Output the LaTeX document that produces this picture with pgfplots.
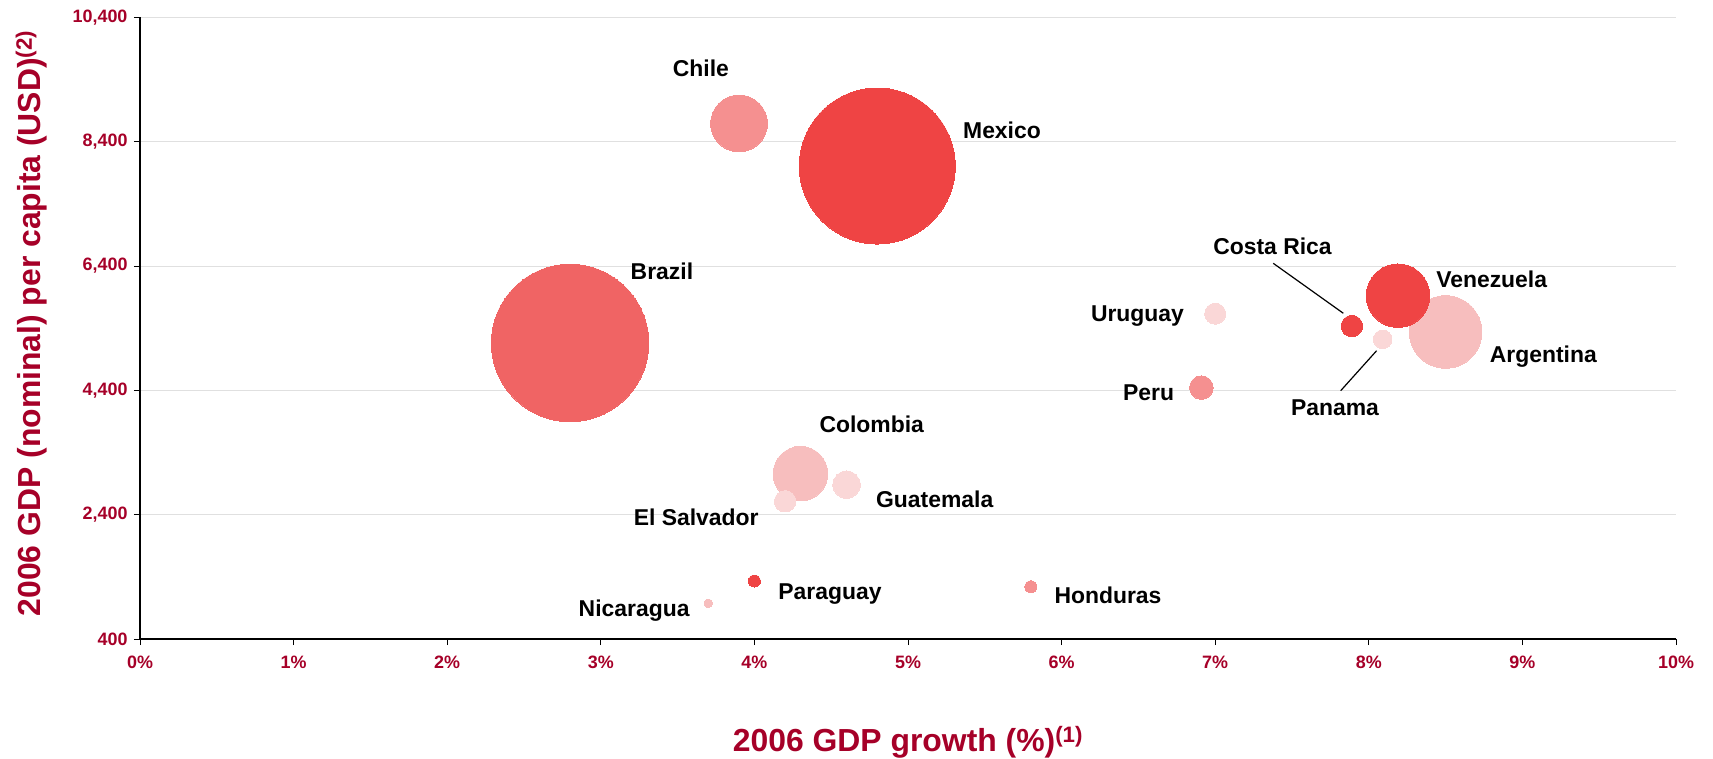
\documentclass[border=0pt]{standalone}
\usepackage{pgfplots}
\pgfplotsset{compat=1.18}
\usepackage{fontspec}
\setmainfont{Liberation Sans}
\definecolor{dred}{RGB}{166,0,40}
\definecolor{cA}{RGB}{239,68,68}
\definecolor{cB}{RGB}{240,100,100}
\definecolor{cC}{RGB}{245,144,144}
\definecolor{cD}{RGB}{247,190,190}
\definecolor{cE}{RGB}{250,215,215}
\tikzset{lbl/.style={font=\fontsize{23}{25}\selectfont\bfseries, inner sep=0pt, anchor=center, text=black}}
\pgfplotsset{bub/.style={only marks, mark=*, color=#1, mark options={solid, line width=0pt, draw=#1, fill=#1}}}
\begin{document}
\begin{tikzpicture}
\begin{axis}[
  at={(140bp,120bp)}, anchor=south west,
  scale only axis, width=1536bp, height=621.5bp,
  xmin=0, xmax=10, ymin=400, ymax=10400,
  axis lines=left,
  axis line style={-, black, line width=1.2bp},
  xtick={0,1,2,3,4,5,6,7,8,9,10},
  xticklabels={0\%,1\%,2\%,3\%,4\%,5\%,6\%,7\%,8\%,9\%,10\%},
  ytick={400,2400,4400,6400,8400,10400},
  yticklabels={400,{2,400},{4,400},{6,400},{8,400},{10,400}},
  tick align=outside, major tick length=6bp,
  tick style={black, line width=1bp},
  ymajorgrids, grid style={black!12, line width=1bp},
  ticklabel style={font=\fontsize{18}{20}\selectfont\bfseries, text=dred},
  xticklabel style={yshift=-7.5bp},
  yticklabel style={xshift=-3bp},
  xlabel={2006 GDP growth (\%)\textsuperscript{(1)}},
  ylabel={2006 GDP (nominal) per capita (USD)\textsuperscript{(2)}},
  xlabel style={at={(axis description cs:0.5,-0.1818)}, anchor=base, font=\fontsize{32}{36}\selectfont\bfseries, text=dred},
  ylabel style={at={(axis description cs:-0.0645,0.508)}, anchor=base, font=\fontsize{32}{36}\selectfont\bfseries, text=dred},
  clip=false,
]
% bubbles: x = growth (%), y = GDP per capita (USD)
\addplot[bub=cC, mark size=28.4bp] coordinates {(3.9,8695)};   % Chile
\addplot[bub=cA, mark size=78bp] coordinates {(4.8,8010)};     % Mexico
\addplot[bub=cB, mark size=78.7bp] coordinates {(2.8,5163)};   % Brazil
\addplot[bub=cD, mark size=36.3bp] coordinates {(8.5,5340)};   % Argentina
\addplot[bub=cA, mark size=31.7bp] coordinates {(8.19,5924)};  % Venezuela
\addplot[bub=cA, mark size=10.7bp] coordinates {(7.89,5436)};  % Costa Rica
\addplot[bub=cE, mark size=9.3bp] coordinates {(8.09,5222)};   % Panama
\addplot[bub=cE, mark size=10.5bp] coordinates {(7.0,5634)};   % Uruguay
\addplot[bub=cC, mark size=11.8bp] coordinates {(6.91,4444)};  % Peru
\addplot[bub=cD, mark size=27.3bp] coordinates {(4.3,3060)};   % Colombia
\addplot[bub=cE, mark size=13.7bp] coordinates {(4.6,2883)};   % Guatemala
\addplot[bub=cE, mark size=10.7bp] coordinates {(4.2,2616)};   % El Salvador
\addplot[bub=cA, mark size=6bp] coordinates {(4.0,1333)};      % Paraguay
\addplot[bub=cC, mark size=6bp] coordinates {(5.8,1241)};      % Honduras
\addplot[bub=cD, mark size=4.3bp] coordinates {(3.7,974)};     % Nicaragua
% leader lines
\draw[black, line width=1.2bp] (axis cs:7.378,6445) -- (axis cs:7.834,5641);
\draw[black, line width=1.2bp] (axis cs:8.051,5039) -- (axis cs:7.817,4395);
% labels
\node[lbl] at (axis cs:3.652,9587) {Chile};
\node[lbl] at (axis cs:5.612,8590) {Mexico};
\node[lbl] at (axis cs:3.398,6321) {Brazil};
\node[lbl] at (axis cs:7.373,6712) {Costa Rica};
\node[lbl] at (axis cs:8.800,6192) {Venezuela};
\node[lbl] at (axis cs:6.494,5597) {Uruguay};
\node[lbl] at (axis cs:9.136,4942) {Argentina};
\node[lbl] at (axis cs:6.566,4358) {Peru};
\node[lbl] at (axis cs:7.780,4122) {Panama};
\node[lbl] at (axis cs:4.764,3854) {Colombia};
\node[lbl] at (axis cs:5.174,2648) {Guatemala};
\node[lbl] at (axis cs:3.621,2358) {El Salvador};
\node[lbl] at (axis cs:4.492,1124) {Paraguay};
\node[lbl] at (axis cs:3.217,855) {Nicaragua};
\node[lbl] at (axis cs:6.302,1108) {Honduras};
\end{axis}
\pgfresetboundingbox
\path[use as bounding box] (0,0) rectangle (1713bp,759bp);
\end{tikzpicture}
\end{document}
